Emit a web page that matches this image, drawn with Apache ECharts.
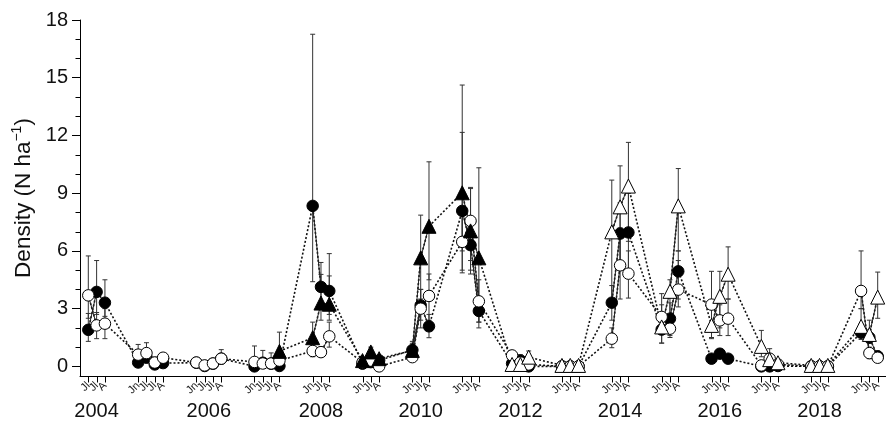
<!DOCTYPE html>
<html>
<head>
<meta charset="utf-8">
<script src="https://cdn.jsdelivr.net/npm/echarts@6/dist/echarts.min.js"></script>
<style>html,body{margin:0;padding:0;background:#fff;}#c{width:886px;height:422px;}</style>
</head>
<body>
<div id="c"></div>
<script>
// ---- structure of the x axis ----
const years = [2004,2005,2006,2007,2008,2009,2010,2011,2012,2013,2014,2015,2016,2017,2018,2019];
const monthsPerYear = [
  ['Jl','Jl','A'], ['Jn','Jl','Jl','A'], ['Jn','Jl','Jl','A'], ['Jn','Jl','Jl','A'],
  ['Jn','Jl','A'], ['Jn','Jl','A'], ['Jn','Jl','A'], ['Jn','Jl','A'],
  ['Jn','Jl','A'], ['Jn','Jl','A'], ['Jn','Jl','A'], ['Jn','Jl','A'],
  ['Jn','Jl','A'], ['Jn','Jl','A'], ['Jn','Jl','A'], ['Jn','Jl','A']
];
const yearTickLabels = ['2004','2006','2008','2010','2012','2014','2016','2018'];
const yTickLabels = [0,3,6,9,12,15,18];
const yMinorTicks = [1,2,4,5,7,8,10,11,13,14,16,17];

// ---- series values (one entry per sampling occasion) ----
const filledCircle = [
  1.9, 3.87, 3.31,
  0.2, 0.45, 0.1, 0.17,
  0.19, 0.02, 0.14, 0.4,
  0.0, 0.19, 0.14, 0.02,
  8.34, 4.13, 3.92,
  0.14, 0.22, 0.31,
  0.85, 3.17, 2.08,
  8.08, 6.3, 2.88,
  0.15, 0.31, 0.0,
  0, 0, 0,
  3.31, 6.9, 6.96,
  1.91, 2.48, 4.94,
  0.4, 0.66, 0.4,
  0, 0, 0.02,
  0, 0, 0,
  1.75, 1.5, 0.52
];
const openCircle = [
  3.69, 2.13, 2.22,
  0.61, 0.69, 0.2, 0.45,
  0.2, 0.05, 0.15, 0.4,
  0.23, 0.15, 0.15, 0.3,
  0.8, 0.74, 1.56,
  0.2, 0.3, 0.0,
  0.48, 3.0, 3.66,
  6.47, 7.56, 3.38,
  0.57, 0.2, 0.1,
  0, 0, 0,
  1.44, 5.25, 4.82,
  2.57, 1.96, 3.99,
  3.21, 2.39, 2.48,
  0.05, 0.4, 0.1,
  0, 0, 0,
  3.92, 0.69, 0.45
];
const filledTriangle = [
  null, null, null,
  null, null, null, null,
  null, null, null, null,
  null, null, null, 0.78,
  1.49, 3.29, 3.23,
  0.3, 0.75, 0.4,
  0.83, 5.64, 7.28,
  9.02, 7.04, 5.64,
  null, null, null,
  null, null, null,
  null, null, null,
  null, null, null,
  null, null, null,
  null, null, null,
  null, null, null,
  null, null, null
];
const openTriangle = [
  null, null, null,
  null, null, null, null,
  null, null, null, null,
  null, null, null, null,
  null, null, null,
  null, null, null,
  null, null, null,
  null, null, null,
  0.1, 0.1, 0.48,
  0.05, 0.05, 0.05,
  6.99, 8.29, 9.37,
  2.05, 3.9, 8.34,
  2.13, 3.64, 4.79,
  1.04, 0.35, 0.19,
  0.05, 0.05, 0.05,
  2.08, 1.66, 3.6
];

// ---- error bars [low, high] ----
const filledCircleErr = [
  [1.3,2.75],[2.7,5.5],[2.6,4.5],
  [0.1,0.4],[0.2,0.9],[0.05,0.3],[0.05,0.35],
  [0.1,0.3],null,[0.05,0.25],[0.2,0.87],
  null,[0.05,0.83],[0.05,0.7],null,
  [4.4,17.26],[3.0,5.4],[2.7,5.86],
  null,[0.1,0.4],[0.1,0.5],
  [0.5,1.2],[2.4,4.0],[1.49,2.7],
  [5.0,12.16],[4.8,7.6],[2.3,3.5],
  null,[0.1,0.6],null,
  null,null,null,
  [2.4,4.2],[5.0,8.5],[5.0,9.0],
  [1.21,2.6],[1.6,3.3],[3.5,6.0],
  [0.3,0.6],[0.5,0.9],[0.3,0.6],
  null,null,null,
  null,null,null,
  [1.4,2.2],[1.2,1.9],[0.3,0.8]
];
const openCircleErr = [
  [2.5,5.74],[1.44,2.8],[1.44,3.0],
  [0.3,1.14],[0.4,1.23],[0.1,0.48],[0.3,0.6],
  null,null,null,null,
  [0.05,1.06],null,null,[0.2,0.5],
  [0.5,1.1],[0.5,1.0],[1.0,2.3],
  null,null,null,
  [0.3,0.8],[2.0,4.0],[2.4,4.8],
  [4.86,8.0],[5.5,9.3],[2.0,4.5],
  [0.3,0.8],null,null,
  null,null,null,
  [0.97,2.0],[3.5,7.2],[3.55,6.0],
  [2.0,3.2],[1.5,2.5],[3.09,5.5],
  [1.44,4.94],[1.6,3.2],[1.6,3.5],
  null,[0.2,0.6],null,
  null,null,null,
  [3.0,6.0],[0.4,1.0],null
];
const filledTriangleErr = [
  null,null,null,
  null,null,null,null,
  null,null,null,null,
  null,null,null,[0.3,1.78],
  [1.0,2.3],[2.4,4.78],[2.4,4.7],
  null,[0.4,1.0],null,
  [0.5,1.3],[3.5,7.86],[4.5,10.63],
  [6.0,14.62],[5.0,9.24],[2.3,10.32],
  null,null,null, null,null,null, null,null,null, null,null,null,
  null,null,null, null,null,null, null,null,null, null,null,null
];
const openTriangleErr = [
  null,null,null,
  null,null,null,null,
  null,null,null,null,
  null,null,null,null,
  null,null,null, null,null,null, null,null,null, null,null,null,
  [0,0.3],null,[0.2,0.8],
  null,null,null,
  [3.5,9.68],[5.5,10.42],[6.5,11.64],
  [1.21,3.78],[2.5,4.5],[6.0,10.28],
  [1.5,3.0],[2.0,4.94],[3.5,6.21],
  [0.5,1.87],[0.1,0.92],null,
  null,null,null,
  [1.5,3.0],[1.2,2.4],[2.5,4.9]
];

// ---- derived axis positions (slot indices, 3 empty slots between years) ----
const slots = [], slotMonth = [], slotYear = [], yearCenter = {};
(function(){
  let s = 0;
  years.forEach((y, i) => {
    const first = s;
    monthsPerYear[i].forEach(m => { slots.push(s); slotMonth.push(m); slotYear.push(y); s++; });
    yearCenter[y] = (first + s - 1) / 2;
    s += 3;
  });
})();
const yearLabelPos = yearTickLabels.map(t => yearCenter[+t]);
const X_MIN = -1, X_MAX = 96, Y_MIN = -0.5, Y_MAX = 18;

function pts(vals) {
  const out = [];
  vals.forEach((v, i) => { if (v !== null) out.push([slots[i], v]); });
  return out;
}
function dottedPts(vals) {
  return vals.map((v, i) => [slots[i], v === null ? '-' : v]);
}
function solidPts(vals) {
  const out = [];
  vals.forEach((v, i) => {
    out.push([slots[i], v === null ? '-' : v]);
    if (i < vals.length - 1 && slotYear[i + 1] !== slotYear[i]) out.push([slots[i] + 1, '-']);
  });
  return out;
}
const triangleAll = filledTriangle.map((v, i) => v !== null ? v : openTriangle[i]);

const errData = [];
[filledCircleErr, openCircleErr, filledTriangleErr, openTriangleErr].forEach(arr => {
  arr.forEach((e, i) => { if (e) errData.push([slots[i], e[0], e[1]]); });
});
// tick marks: [x, y, kind] kind 0 = x-axis tick, 1 = y minor tick
const tickData = slots.map(s => [s, Y_MIN, 0]).concat(yMinorTicks.map(v => [X_MIN, v, 1]));

const FONT = 'Liberation Sans, Arial, Helvetica, sans-serif';
const chart = echarts.init(document.getElementById('c'), null, {renderer: 'canvas'});

const dotted = {type: [2, 2], width: 1.6, color: '#111'};
const solid = {type: 'solid', width: 1, color: '#222'};

function lineSeries(vals, style, fn, z) {
  return {type: 'line', data: fn(vals), showSymbol: false, symbol: 'none', connectNulls: false,
    lineStyle: style, z: z, silent: true, animation: false, xAxisIndex: 0, yAxisIndex: 0};
}
function markerSeries(vals, symbol, size, filled, z) {
  return {type: 'scatter', data: pts(vals), symbol: symbol, symbolSize: size, z: z, silent: true,
    animation: false, xAxisIndex: 0, yAxisIndex: 0,
    itemStyle: {color: filled ? '#000' : '#fff', borderColor: '#000', borderWidth: 1, opacity: 1}};
}
function monthLabelAxis(k) {
  const vals = slots.filter((s, i) => i % 3 === k);
  return {
    type: 'value', min: X_MIN, max: X_MAX, position: 'bottom',
    axisLine: {show: k === 0, onZero: false, lineStyle: {color: '#000', width: 1}},
    axisTick: {show: false},
    axisLabel: {show: true, rotate: 45, fontSize: 11, color: '#222', margin: 8, fontFamily: FONT,
      hideOverlap: false, showMinLabel: true, showMaxLabel: true,
      customValues: vals, formatter: v => slotMonth[slots.indexOf(v)] || ''},
    splitLine: {show: false}
  };
}

const option = {
  animation: false,
  textStyle: {fontFamily: FONT},
  grid: {left: 80, top: 20, width: 814, height: 356},
  xAxis: [
    monthLabelAxis(0),
    {
      type: 'value', min: X_MIN, max: X_MAX, position: 'bottom',
      axisLine: {show: false, onZero: false}, axisTick: {show: false},
      axisLabel: {show: true, fontSize: 20, color: '#111', margin: 25, fontFamily: FONT,
        hideOverlap: false,
        customValues: yearLabelPos, formatter: v => yearTickLabels[yearLabelPos.indexOf(v)] || ''},
      splitLine: {show: false}
    },
    monthLabelAxis(1),
    monthLabelAxis(2)
  ],
  yAxis: [{
    type: 'value', min: Y_MIN, max: Y_MAX,
    axisLine: {show: true, onZero: false, lineStyle: {color: '#000', width: 1}},
    axisTick: {show: true, length: 8, lineStyle: {color: '#000'}, customValues: yTickLabels},
    axisLabel: {show: true, fontSize: 20, color: '#111', margin: 12, fontFamily: FONT, customValues: yTickLabels},
    splitLine: {show: false},
    name: '{a|Density (N ha}{b|−1}{a|)}',
    nameLocation: 'middle', nameGap: 38,
    nameTextStyle: {rich: {
      a: {fontSize: 22.5, color: '#111', fontFamily: FONT, lineHeight: 26},
      b: {fontSize: 14, color: '#111', fontFamily: FONT, verticalAlign: 'top', lineHeight: 26}
    }}
  }],
  series: [
    {
      type: 'custom', data: tickData, encode: {x: 0, y: 1}, z: 10, silent: true, animation: false,
      clip: false, xAxisIndex: 0, yAxisIndex: 0,
      renderItem: function (params, api) {
        const p = api.coord([api.value(0), api.value(1)]);
        const kind = api.value(2);
        const x = Math.round(p[0]) + 0.5, y = Math.round(p[1]) + 0.5;
        const shape = kind === 0 ? {x1: x, y1: y, x2: x, y2: y + 6} : {x1: x - 5, y1: y, x2: x, y2: y};
        return {type: 'line', shape: shape, style: {stroke: '#000', lineWidth: 1}};
      }
    },
    {
      type: 'custom', data: errData, encode: {x: 0, y: [1, 2]}, z: 1, silent: true, animation: false,
      xAxisIndex: 0, yAxisIndex: 0,
      renderItem: function (params, api) {
        const x = api.value(0), lo = api.value(1), hi = api.value(2);
        const p1 = api.coord([x, lo]), p2 = api.coord([x, hi]);
        const w = 2.5, st = {stroke: '#333', lineWidth: 1};
        return {type: 'group', children: [
          {type: 'line', shape: {x1: p1[0], y1: p1[1], x2: p2[0], y2: p2[1]}, style: st},
          {type: 'line', shape: {x1: p1[0] - w, y1: p1[1], x2: p1[0] + w, y2: p1[1]}, style: st},
          {type: 'line', shape: {x1: p2[0] - w, y1: p2[1], x2: p2[0] + w, y2: p2[1]}, style: st}
        ]};
      }
    },
    lineSeries(filledCircle, dotted, dottedPts, 2),
    lineSeries(openCircle, dotted, dottedPts, 2),
    lineSeries(triangleAll, dotted, dottedPts, 2),
    lineSeries(filledCircle, solid, solidPts, 3),
    lineSeries(openCircle, solid, solidPts, 3),
    lineSeries(triangleAll, solid, solidPts, 3),
    markerSeries(filledCircle, 'circle', 11.5, true, 4),
    markerSeries(openCircle, 'circle', 11.5, false, 5),
    markerSeries(filledTriangle, 'triangle', 14, true, 6),
    markerSeries(openTriangle, 'triangle', 14, false, 6)
  ]
};
chart.setOption(option);
</script>
</body>
</html>
